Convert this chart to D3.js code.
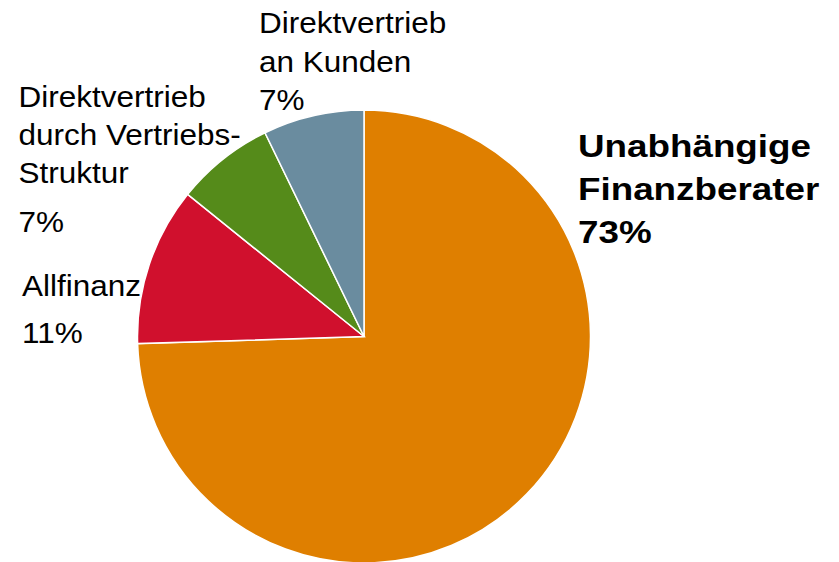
<!DOCTYPE html>
<html>
<head>
<meta charset="utf-8">
<script src="https://cdn.jsdelivr.net/npm/d3@7"></script>
<style>
  body { margin: 0; background: #fff; }
  svg { display: block; font-family: "Liberation Sans", Arial, sans-serif; }
</style>
</head>
<body>
<svg id="chart" width="839" height="562"></svg>
<script>
const categories = ["Unabhängige Finanzberater", "Allfinanz", "Direktvertrieb durch Vertriebs-Struktur", "Direktvertrieb an Kunden"];
const shares = [74.5, 11.3, 7.0, 7.2];
const pctLabels = ["73%", "11%", "7%", "7%"];
const labelLines = [
  ["Unabhängige", "Finanzberater"],
  ["Allfinanz"],
  ["Direktvertrieb", "durch Vertriebs-", "Struktur"],
  ["Direktvertrieb", "an Kunden"]
];
const colors = ["#df7f00", "#d0102d", "#558b1a", "#6a8c9f"];

const svg = d3.select("#chart");
const cx = 364, cy = 336.5, r = 226.5;

const pie = d3.pie().sort(null).value(function (d) { return d; });
const arc = d3.arc().innerRadius(0).outerRadius(r);

svg.append("g")
  .attr("transform", "translate(" + cx + "," + cy + ")")
  .selectAll("path")
  .data(pie(shares))
  .enter()
  .append("path")
  .attr("d", arc)
  .attr("fill", function (d, i) { return colors[i]; })
  .attr("stroke", "#fff")
  .attr("stroke-width", 1.5);

// label placement: x, baseline of first line, line step, gap before percent, font, scaleX
const layout = [
  { x: 578, y: 156.7, step: 43.3, pctGap: 43.3, size: 32, weight: "bold", sx: 1.15 },
  { x: 22, y: 295.5, step: 38.3, pctGap: 47.8, size: 30, weight: "normal", sx: 1.05 },
  { x: 18.5, y: 106.7, step: 38.3, pctGap: 48.4, size: 30, weight: "normal", sx: 1.05 },
  { x: 259, y: 33.3, step: 38.3, pctGap: 38.3, size: 30, weight: "normal", sx: 1.05 }
];

layout.forEach(function (L, i) {
  const lines = labelLines[i].concat([pctLabels[i]]);
  const g = svg.append("g").attr("class", "label");
  g.selectAll("text")
    .data(lines)
    .enter()
    .append("text")
    .text(function (d) { return d; })
    .attr("transform", function (d, j) {
      let y = L.y + j * L.step;
      if (j === lines.length - 1) y = L.y + (j - 1) * L.step + L.pctGap;
      return "translate(" + L.x + "," + y + ") scale(" + L.sx + ",1)";
    })
    .attr("font-size", L.size + "px")
    .attr("font-weight", L.weight)
    .attr("fill", "#000");
});
</script>
</body>
</html>
